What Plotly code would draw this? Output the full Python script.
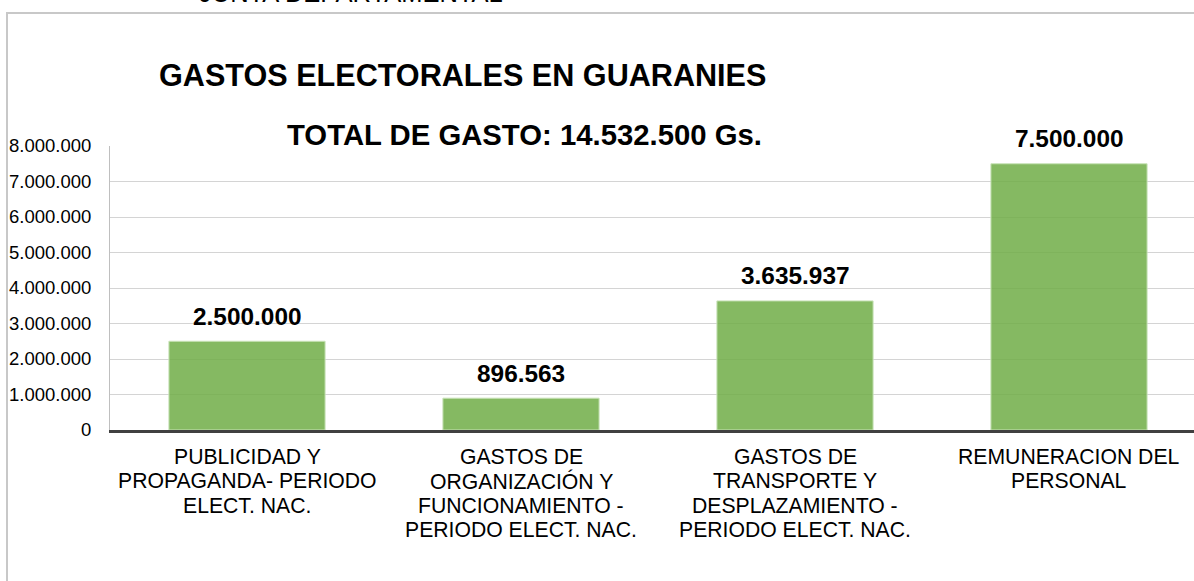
import plotly.graph_objects as go

categories = [
    "PUBLICIDAD Y<br>PROPAGANDA- PERIODO<br>ELECT. NAC.",
    "GASTOS DE<br>ORGANIZACIÓN Y<br>FUNCIONAMIENTO -<br>PERIODO ELECT. NAC.",
    "GASTOS DE<br>TRANSPORTE Y<br>DESPLAZAMIENTO -<br>PERIODO ELECT. NAC.",
    "REMUNERACION DEL<br>PERSONAL",
]
values = [2500000, 896563, 3635937, 7500000]
tick_values = [0, 1000000, 2000000, 3000000, 4000000, 5000000, 6000000, 7000000, 8000000]
tick_labels = ["0", "1.000.000", "2.000.000", "3.000.000", "4.000.000",
               "5.000.000", "6.000.000", "7.000.000", "8.000.000"]
title_text = "GASTOS ELECTORALES EN GUARANIES"
subtitle_text = "TOTAL DE GASTO: 14.532.500 Gs."
header_text = "JUNTA DEPARTAMENTAL"

FONT = "Arial, 'Liberation Sans', sans-serif"

W, H = 1194, 581
L, R, T, B = 110, 0, 146, 151
PW, PH = W - L - R, H - T - B


def px(x):
    return (x - L) / PW


def py(y):
    return (H - B - y) / PH


def fmt(v):
    return f"{v:,}".replace(",", ".")


fig = go.Figure()
fig.add_trace(go.Bar(
    x=list(range(len(categories))),
    y=values,
    marker=dict(color="rgba(112,173,71,0.85)", line=dict(color="#c9e3b8", width=1)),
    hoverinfo="skip",
))

annotations = []
for i, v in enumerate(values):
    annotations.append(dict(
        x=i, y=v, xref="x", yref="y", text=f"<b>{fmt(v)}</b>", showarrow=False,
        yanchor="middle", yshift=25, font=dict(family=FONT, size=24.4, color="#000000"),
    ))

# category labels, one line per annotation for tighter line spacing
LINE_GAP = 24.6
FIRST_LINE = 456
for i, cat in enumerate(categories):
    for j, line in enumerate(cat.split("<br>")):
        annotations.append(dict(
            x=i, y=py(FIRST_LINE + j * LINE_GAP), xref="x", yref="paper",
            xanchor="center", yanchor="middle", text=line, showarrow=False,
            font=dict(family=FONT, size=21.2, color="#000000"),
        ))

annotations += [
    dict(x=px(157), y=py(75), xref="paper", yref="paper", xanchor="left", yanchor="middle",
         text=f"<b>{title_text}</b>", showarrow=False,
         font=dict(family=FONT, size=30.6, color="#000000")),
    dict(x=px(285), y=py(134), xref="paper", yref="paper", xanchor="left", yanchor="middle",
         text=f"<b>{subtitle_text}</b>", showarrow=False,
         font=dict(family=FONT, size=29.3, color="#000000")),
    dict(x=px(197), y=py(-7), xref="paper", yref="paper", xanchor="left", yanchor="middle",
         text=header_text, showarrow=False,
         font=dict(family=FONT, size=25.5, color="#000000")),
]

shapes = [
    dict(type="line", xref="paper", yref="paper", x0=px(7), x1=px(7), y0=py(13), y1=py(H + 5),
         line=dict(color="#c8c8c8", width=2)),
    dict(type="line", xref="paper", yref="paper", x0=px(6), x1=px(W + 5), y0=py(13), y1=py(13),
         line=dict(color="#c8c8c8", width=2)),
]

fig.update_layout(
    width=W, height=H,
    margin=dict(l=L, r=R, t=T, b=B, pad=0),
    paper_bgcolor="white", plot_bgcolor="white",
    showlegend=False,
    bargap=0.43,
    font=dict(family=FONT, color="#000000"),
    annotations=annotations,
    shapes=shapes,
    xaxis=dict(
        range=[-0.5, -0.5 + PW / 274.0],
        tickmode="array", tickvals=list(range(len(categories))),
        showticklabels=False,
        showgrid=False, zeroline=False,
        showline=True, linecolor="#404040", linewidth=3,
        ticks="",
        fixedrange=True,
    ),
    yaxis=dict(
        range=[0, 8000000],
        tickmode="array", tickvals=tick_values, ticktext=tick_labels,
        showgrid=True, gridcolor="#d4d4d4", gridwidth=1,
        zeroline=False,
        showline=True, linecolor="#bfbfbf", linewidth=1,
        ticks="", ticklabelstandoff=14,
        tickfont=dict(family=FONT, size=18.5, color="#000000"),
        fixedrange=True,
    ),
)

fig.write_html(
    "out.html",
    config={"displayModeBar": False},
    post_script="document.body.style.margin='0';document.body.style.overflow='hidden';",
)
